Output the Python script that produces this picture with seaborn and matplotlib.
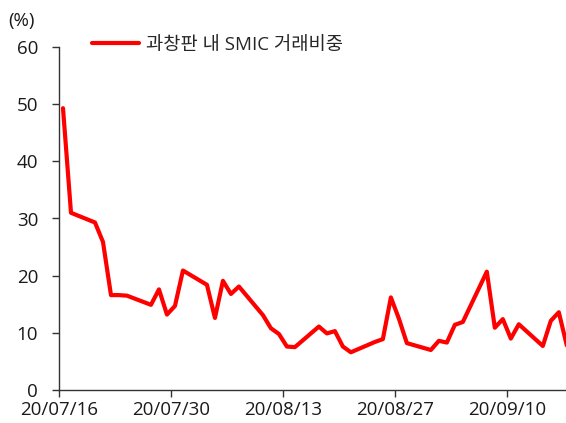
import numpy as np
import pandas as pd
import seaborn as sns
import matplotlib.pyplot as plt
import matplotlib.dates as mdates

# trading days and SMIC share of STAR market turnover (%)
dates = [
    "2020-07-16", "2020-07-17", "2020-07-20", "2020-07-21", "2020-07-22",
    "2020-07-23", "2020-07-24", "2020-07-27", "2020-07-28", "2020-07-29",
    "2020-07-30", "2020-07-31", "2020-08-03", "2020-08-04", "2020-08-05",
    "2020-08-06", "2020-08-07", "2020-08-10", "2020-08-11", "2020-08-12",
    "2020-08-13", "2020-08-14", "2020-08-17", "2020-08-18", "2020-08-19",
    "2020-08-20", "2020-08-21", "2020-08-24", "2020-08-25", "2020-08-26",
    "2020-08-27", "2020-08-28", "2020-08-31", "2020-09-01", "2020-09-02",
    "2020-09-03", "2020-09-04", "2020-09-07", "2020-09-08", "2020-09-09",
    "2020-09-10", "2020-09-11", "2020-09-14", "2020-09-15", "2020-09-16",
    "2020-09-17",
]
share = [
    49.3, 31.0, 29.3, 25.9, 16.6,
    16.6, 16.5, 14.9, 17.6, 13.2,
    14.7, 20.9, 18.4, 12.6, 19.1,
    16.8, 18.1, 13.1, 10.8, 9.8,
    7.6, 7.5, 11.1, 9.9, 10.3,
    7.6, 6.6, 8.4, 8.9, 16.2,
    12.5, 8.2, 7.0, 8.6, 8.3,
    11.4, 11.9, 20.7, 10.9, 12.4,
    9.0, 11.5, 7.7, 12.1, 13.6,
    7.8,
]
series_name = "과창판 내 SMIC 거래비중"
x_ticks = ["2020-07-16", "2020-07-30", "2020-08-13", "2020-08-27", "2020-09-10"]
y_ticks = [0, 10, 20, 30, 40, 50, 60]

sns.set_style("ticks")
plt.rcParams["font.family"] = ["Open Sans", "Noto Sans CJK KR", "DejaVu Sans"]

df = pd.DataFrame({"date": pd.to_datetime(dates), "share": share})
# points sit in the middle of each day slot, like the original date axis
df["date"] = df["date"] + pd.Timedelta(hours=12)

fig = plt.figure(figsize=(5.66, 4.23), dpi=100)
ax = fig.add_axes([59 / 566, 1 - 390 / 423, 507 / 566, 343 / 423])

sns.lineplot(data=df, x="date", y="share", color="#ff0000", linewidth=3,
             label=series_name, ax=ax)

start = pd.Timestamp("2020-07-16")
ax.set_xlim(start, start + pd.Timedelta(days=63.4))
ax.set_ylim(0, 60)
ax.set_xticks(pd.to_datetime(x_ticks))
ax.xaxis.set_major_formatter(mdates.DateFormatter("%y/%m/%d"))
ax.set_yticks(y_ticks)
ax.set_xlabel("")
ax.set_ylabel("")

for side in ["top", "right"]:
    ax.spines[side].set_visible(False)
for side in ["left", "bottom"]:
    ax.spines[side].set_color("#333333")
    ax.spines[side].set_linewidth(1)
ax.tick_params(axis="both", direction="out", length=5, width=1,
               color="#333333", labelsize=13.5, labelcolor="#1a1a1a")
ax.tick_params(axis="x", pad=3)
ax.tick_params(axis="y", pad=10)

ax.legend(loc="center left", bbox_to_anchor=(0.065, 1.006), frameon=False,
          fontsize=13.5, handlelength=2.5, handletextpad=0.4,
          borderpad=0, borderaxespad=0)

fig.text(8 / 566, 1 - 21 / 423, "(%)", fontsize=13.5, color="#1a1a1a",
         va="center", ha="left")

fig.savefig("out.png", dpi=100)
